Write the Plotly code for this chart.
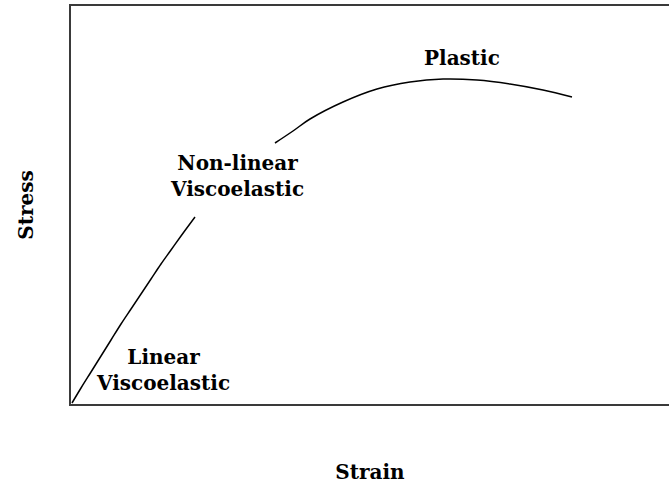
import plotly.graph_objects as go

# Data (strain, stress) in arbitrary units
visco_strain = [1, 10, 20, 30, 40, 50, 60, 70, 80, 90, 100, 110, 124]
visco_stress = [1, 16, 32, 48, 64, 80, 95, 110, 125, 140, 154, 168, 187]
plastic_strain = [204, 222, 239, 272, 306, 339, 372, 406, 439, 472, 501]
plastic_stress = [261, 273, 285, 302, 315, 322, 325, 324, 320, 314, 307]

labels = ["Linear<br>Viscoelastic", "Non-linear<br>Viscoelastic", "Plastic"]
label_x = [92, 166, 391]
label_y = [34, 228, 346]

FONT = "DejaVu Serif"

fig = go.Figure()
fig.add_trace(go.Scatter(x=visco_strain, y=visco_stress, mode="lines",
                         line=dict(color="black", width=1.5, shape="spline"),
                         showlegend=False, hoverinfo="skip"))
fig.add_trace(go.Scatter(x=plastic_strain, y=plastic_stress, mode="lines",
                         line=dict(color="black", width=1.5, shape="spline"),
                         showlegend=False, hoverinfo="skip"))

for t, x, y in zip(labels, label_x, label_y):
    fig.add_annotation(x=x, y=y, text="<b>" + t + "</b>", showarrow=False,
                       font=dict(family=FONT, size=20, color="black"),
                       align="center", xanchor="center", yanchor="middle")

fig.update_layout(
    width=669, height=496,
    margin=dict(l=71, r=0, t=6, b=92),
    paper_bgcolor="white", plot_bgcolor="white",
    showlegend=False,
)
fig.update_xaxes(range=[0, 598], showgrid=False, zeroline=False,
                 showticklabels=False, ticks="", showline=True,
                 linecolor="#3a3a3a", linewidth=2, mirror=True,
                 title=dict(text="<b>Strain</b>", standoff=60,
                            font=dict(family=FONT, size=20, color="black")))
fig.update_yaxes(range=[0, 398], showgrid=False, zeroline=False,
                 showticklabels=False, ticks="", showline=True,
                 linecolor="#3a3a3a", linewidth=2,
                 title=dict(text="<b>Stress</b>", standoff=30,
                            font=dict(family=FONT, size=20, color="black")))

fig.write_html("out.html",
               config={"displayModeBar": False},
               post_script="document.body.style.margin='0';")
